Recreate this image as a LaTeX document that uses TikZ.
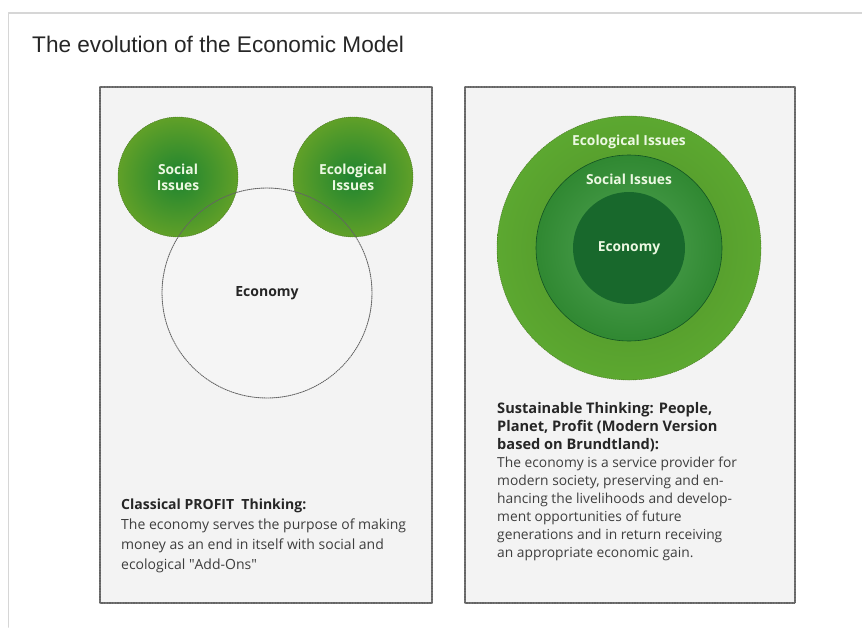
\documentclass[tikz,border=0pt]{standalone}
\usepackage{fontspec}
\setmainfont{Open Sans}
\newfontfamily\titlefont{Liberation Sans}
\usepackage{xcolor}
\usetikzlibrary{positioning}
\definecolor{boxgray}{RGB}{243,243,243}
\definecolor{framegray}{RGB}{214,214,214}
\definecolor{dotgray}{RGB}{100,100,100}
\definecolor{olive}{RGB}{96,160,40}
\definecolor{leafgreen}{RGB}{30,132,48}
\definecolor{ringlight}{RGB}{92,168,48}
\definecolor{ringmid}{RGB}{52,148,54}
\definecolor{coredark}{RGB}{24,104,44}
\definecolor{labelwhite}{RGB}{236,248,226}
\definecolor{textgray}{RGB}{62,62,62}
\tikzset{
    panel/.style = {fill=boxgray, draw=dotgray, line width=1.3pt, dash pattern=on 0.8pt off 0.8pt},
    rim/.style = {draw=dotgray, line width=0.9pt, dash pattern=on 1pt off 1pt},
    issue/.style = {text=labelwhite, font=\fontsize{13.8}{16}\selectfont\bfseries, align=center},
    disc/.style = {circle, inner sep=0pt, minimum size=#1},
    caption/.style = {anchor=north west, inner sep=0pt, align=left, text=textgray}
}

\begin{document}
\begin{tikzpicture}[x=1pt,y=-1pt,line cap=round,line join=round]
    \useasboundingbox (0,0) rectangle (862,627);
    
    \draw [framegray, line width=1.5pt] (8.5,627) -- (8.5,13) -- (862,13);
    \node [anchor=west, inner sep=0pt, text=black!85, font=\titlefont\fontsize{22.6}{26}\selectfont] (title) at (32,44) {The evolution of the Economic Model};
    
    \draw [panel] (100,87) rectangle (432,603);
    \draw [panel] (465,87) rectangle (795,603);
    
    % classical thinking
    \node [disc=210pt, fill=white!20!boxgray, font=\fontsize{14}{16}\selectfont\bfseries, text=black!85] (economy) at (267,293) {Economy};
    \node [disc=120pt, issue, shade, inner color=leafgreen, outer color=olive, draw=olive!70!black, dash pattern=on 1pt off 1pt] (social) at (178,177) {Social\\Issues};
    \node [disc=120pt, issue, shade, inner color=leafgreen, outer color=olive, draw=olive!70!black, dash pattern=on 1pt off 1pt] (ecological) at (353,177) {Ecological\\Issues};
    \draw [rim] (economy.center) circle (105pt);
    \node [caption, font=\fontsize{14}{20}\selectfont] (classical) at (121,499) {\textbf{\color{black!85}Classical PROFIT\ \ Thinking:}\\The economy serves the purpose of making\\money as an end in itself with social and\\ecological \textquotedbl Add-Ons\textquotedbl};
    
    % sustainable thinking
    \node [disc=264pt, shade, inner color=ringlight!85!black, outer color=ringlight, draw=olive!70!black, dash pattern=on 1pt off 1pt] (planet) at (629,248) {};
    \node [disc=186pt, shade, inner color=ringmid!85!white, outer color=ringmid!92!black, draw=coredark!80!black, line width=0.6pt] (people) at (629,248) {};
    \node [disc=112pt, issue, fill=coredark] (core) at (629,248) {Economy};
    \node [issue] (planetlabel) at (629,142) {Ecological Issues};
    \node [issue] (peoplelabel) at (629,179) {Social Issues};
    \node [caption, font=\fontsize{13.8}{18}\selectfont] (sustainable) at (497,402) {\textbf{\color{black!85}\fontsize{14.6}{18}\selectfont Sustainable Thinking: People,}\\\textbf{\color{black!85}\fontsize{14.6}{18}\selectfont Planet, Profit (Modern Version}\\\textbf{\color{black!85}\fontsize{14.6}{18}\selectfont based on Brundtland):}\\The economy is a service provider for\\modern society, preserving and en-\\hancing the livelihoods and develop-\\ment opportunities of future\\generations and in return receiving\\an appropriate economic gain.};
\end{tikzpicture}
\end{document}
